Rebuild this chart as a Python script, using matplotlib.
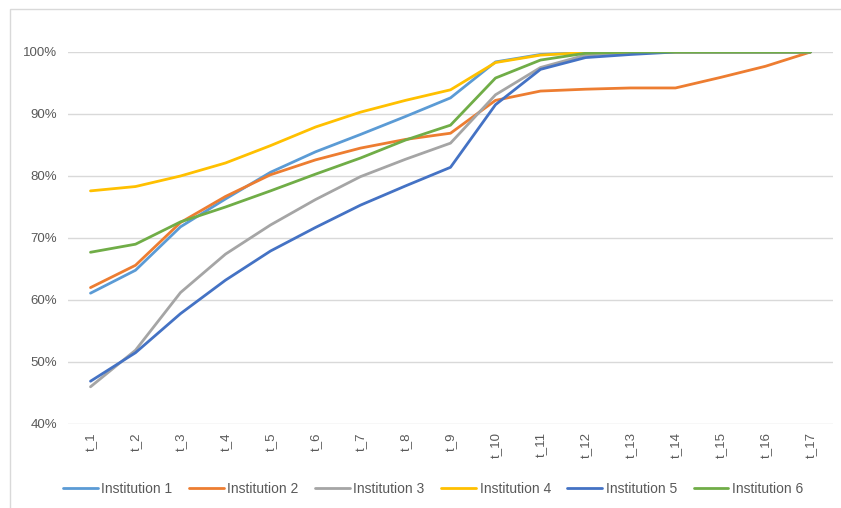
import matplotlib
matplotlib.use("Agg")
import matplotlib.pyplot as plt
from matplotlib.patches import Rectangle
from matplotlib.ticker import PercentFormatter

periods = [f"t_{i}" for i in range(1, 18)]

institution_1 = [61.1, 64.8, 71.8, 76.3, 80.6, 83.9, 86.7, 89.6, 92.6, 98.4, 99.6, 99.9, 100, 100, 100, 100, 100]
institution_2 = [62.0, 65.6, 72.5, 76.7, 80.2, 82.6, 84.5, 85.9, 86.9, 92.2, 93.7, 94.0, 94.2, 94.2, 95.9, 97.7, 100]
institution_3 = [46.0, 51.9, 61.2, 67.4, 72.1, 76.2, 79.9, 82.7, 85.3, 93.1, 97.5, 99.5, 99.9, 100, 100, 100, 100]
institution_4 = [77.6, 78.3, 80.0, 82.1, 84.9, 87.9, 90.3, 92.2, 93.9, 98.3, 99.5, 99.9, 100, 100, 100, 100, 100]
institution_5 = [46.9, 51.5, 57.8, 63.2, 67.9, 71.7, 75.3, 78.4, 81.4, 91.5, 97.2, 99.1, 99.6, 100, 100, 100, 100]
institution_6 = [67.7, 69.0, 72.6, 75.0, 77.6, 80.3, 82.9, 85.8, 88.2, 95.8, 98.7, 99.8, 100, 100, 100, 100, 100]

series_names = ["Institution 1", "Institution 2", "Institution 3",
                "Institution 4", "Institution 5", "Institution 6"]
series_values = [institution_1, institution_2, institution_3,
                 institution_4, institution_5, institution_6]
series_colors = ["#5B9BD5", "#ED7D31", "#A5A5A5", "#FFC000", "#4472C4", "#70AD47"]

plt.rcParams["font.family"] = ["Liberation Sans", "DejaVu Sans"]

W, H = 841, 508
fig = plt.figure(figsize=(W / 100, H / 100), dpi=100)
fig.patch.set_facecolor("white")

# chart-area frame (left and top edges visible)
fig.add_artist(Rectangle((10 / W, -0.05), 1.2, 1 - 9 / H + 0.05,
                         transform=fig.transFigure, fill=False,
                         edgecolor="#D9D9D9", linewidth=1.0))

left, right = 68 / W, 833 / W
top, bottom = 52 / H, 424 / H
ax = fig.add_axes([left, 1 - bottom, right - left, bottom - top])

x = list(range(len(periods)))
for name, vals, col in zip(series_names, series_values, series_colors):
    ax.plot(x, [v / 100 for v in vals], color=col, linewidth=2.0,
            label=name, solid_capstyle="round", solid_joinstyle="round")

ax.set_xlim(-0.5, len(periods) - 0.5)
ax.set_ylim(0.4, 1.0)
ax.set_yticks([0.4, 0.5, 0.6, 0.7, 0.8, 0.9, 1.0])
ax.yaxis.set_major_formatter(PercentFormatter(1.0, decimals=0))
ax.set_xticks(x)
ax.set_xticklabels(periods, rotation=90)
ax.grid(axis="y", color="#D9D9D9", linewidth=1.0)
ax.set_axisbelow(True)
for s in ax.spines.values():
    s.set_visible(False)
ax.tick_params(axis="both", length=0, colors="#595959", labelsize=9.5)
ax.tick_params(axis="y", pad=7.7)
ax.tick_params(axis="x", pad=6)

fig.legend(loc="center", bbox_to_anchor=(433 / W, 1 - 489 / H), ncol=6,
           frameon=False, fontsize=10, handlelength=2.5, handletextpad=0.25,
           columnspacing=1.2, labelcolor="#595959")

fig.savefig("out.png", dpi=100, facecolor="white")
